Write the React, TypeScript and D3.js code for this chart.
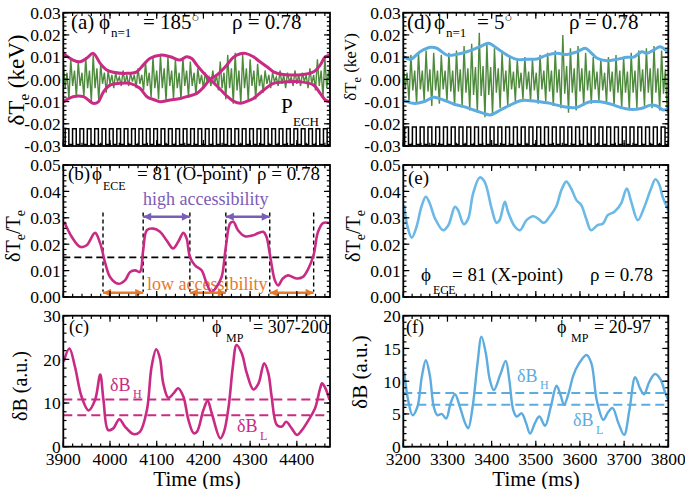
import React from "react";
import * as d3 from "d3";

const FONT = '"Liberation Serif","Times New Roman",Times,serif';
const MAGENTA = "#c92a84";
const GREEN = "#4d8a3b";
const BLUE = "#5cacdf";
const BLUE_E = "#6bb9e6";
const ORANGE = "#e57a2c";
const PURPLE = "#7b5cb6";

// ---------------- (a) phi_n=1 = 185, ECE dTe (keV) ----------------
const greenA_t0 = 3900;
const greenA_dt = 4;
const greenA = [
  0.008, -0.004, 0.003, -0.009, 0.009, -0.003, 0.004, -0.008, 0.008, -0.003, 0.003, -0.008,
  0.010, -0.004, 0.004, -0.010, 0.011, -0.004, 0.005, -0.010, 0.007, -0.002, 0.003, -0.006,
  0.004, -0.002, 0.002, -0.004, 0.003, -0.001, 0.001, -0.003, 0.004, -0.002, 0.002, -0.003,
  0.003, -0.001, 0.002, -0.004, 0.005, -0.002, 0.002, -0.005, 0.008, -0.003, 0.003, -0.008,
  0.010, -0.004, 0.004, -0.009, 0.011, -0.004, 0.005, -0.010, 0.010, -0.003, 0.004, -0.009,
  0.009, -0.004, 0.003, -0.009, 0.010, -0.003, 0.004, -0.008, 0.008, -0.003, 0.003, -0.007,
  0.005, -0.002, 0.002, -0.004, 0.003, -0.001, 0.001, -0.003, 0.004, -0.002, 0.002, -0.005,
  0.008, -0.004, 0.003, -0.009, 0.011, -0.004, 0.005, -0.011, 0.012, -0.005, 0.004, -0.011,
  0.011, -0.004, 0.005, -0.010, 0.009, -0.003, 0.004, -0.009, 0.007, -0.003, 0.002, -0.006,
  0.004, -0.002, 0.002, -0.004, 0.003, -0.001, 0.001, -0.003, 0.004, -0.002, 0.002, -0.004,
  0.003, -0.001, 0.001, -0.003, 0.004, -0.002, 0.002, -0.003, 0.003, -0.001, 0.002, -0.004,
  0.005, -0.002, 0.002, -0.005, 0.009, -0.003, 0.004, -0.008, 0.010, -0.004, 0.004, -0.009,
];
const envA1_t = [3900, 3921, 3936, 3950, 3964, 3979, 3993, 4007, 4036, 4057, 4071, 4086, 4107, 4129, 4150, 4164, 4175, 4186, 4200, 4214, 4229, 4250, 4264, 4279, 4290, 4307, 4329, 4350, 4379, 4407, 4436, 4450, 4461, 4471];
const envA1_v = [0.0117, 0.0087, 0.0079, 0.0095, 0.0117, 0.0072, 0.0042, 0.0032, 0.0027, 0.0034, 0.0064, 0.0095, 0.0109, 0.0102, 0.0087, 0.0102, 0.0094, 0.0064, 0.003, 0.0, -0.003, -0.0075, -0.0098, -0.0108, -0.0101, -0.0086, -0.0048, -0.0018, -0.0011, -0.0011, -0.0026, -0.0063, -0.0093, -0.0101];
const envA2_t = [3900, 3921, 3943, 3964, 3975, 3986, 4000, 4021, 4043, 4064, 4079, 4096, 4107, 4129, 4150, 4164, 4186, 4200, 4214, 4229, 4250, 4264, 4279, 4290, 4307, 4321, 4336, 4350, 4371, 4414, 4436, 4450, 4461, 4471];
const envA2_v = [-0.0101, -0.0078, -0.0078, -0.0108, -0.0101, -0.0056, -0.0026, -0.0018, -0.0018, -0.004, -0.0078, -0.0093, -0.0101, -0.0093, -0.0086, -0.0078, -0.0063, -0.0036, 0.0, 0.002, 0.0064, 0.0099, 0.0115, 0.0117, 0.0102, 0.0079, 0.0057, 0.0034, 0.0022, 0.0022, 0.0034, 0.0064, 0.0102, 0.0109];
const pechA_t0 = 3904;
const pechA_dt = 7.9;
const pechA_low = -0.0293;
const pechA_high = -0.0222;
const pechA = [
  1, 0, 1, 0, 1, 0, 1, 0, 1, 0, 1, 0, 1, 0, 1, 0, 1, 0, 1, 0, 1, 0, 1, 0,
  1, 0, 1, 0, 1, 0, 1, 0, 1, 0, 1, 0, 1, 0, 1, 0, 1, 0, 1, 0, 1, 0, 1, 0,
  1, 0, 1, 0, 1, 0, 1, 0, 1, 0, 1, 0, 1, 0, 1, 0, 1, 0, 1, 0, 1, 0, 1, 0,
];

// ---------------- (b) dTe/Te O-point ----------------
const timeB = [3902, 3918, 3936, 3950, 3968, 3979, 3990, 4000, 4018, 4032, 4043, 4054, 4064, 4071, 4079, 4093, 4107, 4121, 4135, 4146, 4157, 4164, 4171, 4182, 4196, 4207, 4217, 4228, 4239, 4248, 4257, 4264, 4274, 4289, 4306, 4328, 4335, 4342, 4353, 4360, 4370, 4381, 4399, 4413, 4424, 4436, 4445, 4456, 4470];
const valB = [0.0285, 0.0228, 0.019, 0.0196, 0.0243, 0.0203, 0.0127, 0.0076, 0.005, 0.0063, 0.0095, 0.0101, 0.0095, 0.0177, 0.0253, 0.0259, 0.0247, 0.0215, 0.0184, 0.0209, 0.0243, 0.0222, 0.0152, 0.012, 0.0101, 0.0051, 0.0019, 0.0038, 0.0076, 0.019, 0.0278, 0.0285, 0.0253, 0.023, 0.0234, 0.0247, 0.0228, 0.0165, 0.0063, 0.0044, 0.007, 0.0082, 0.007, 0.0076, 0.0105, 0.016, 0.0245, 0.028, 0.028];
const thresholdB = 0.015;
const accessT = [3985, 4071, 4171, 4248, 4342, 4436];
const accessTop = 0.032;
const accessBottom = 0.002;
const highArrowY = 0.0304;
const lowArrowY = 0.0016;

// ---------------- (c) dB ----------------
const timeC = [3901, 3913, 3925, 3939, 3954, 3968, 3979, 3986, 3996, 4007, 4020, 4032, 4050, 4064, 4079, 4089, 4099, 4107, 4114, 4125, 4136, 4146, 4157, 4168, 4179, 4186, 4200, 4209, 4218, 4236, 4244, 4254, 4263, 4271, 4282, 4293, 4307, 4318, 4330, 4339, 4346, 4357, 4368, 4377, 4389, 4400, 4411, 4425, 4439, 4450, 4454, 4461, 4470];
const valC = [19.5, 22.5, 18.3, 11.5, 8.3, 10.7, 16.5, 10.7, 3.8, 4.2, 6.3, 4.6, 2.9, 3.4, 8.4, 18.3, 22.3, 20.2, 14.5, 11.2, 12.2, 13.4, 11.5, 6.1, 3.1, 3.4, 8.4, 10.5, 7.6, 1.9, 3.4, 9.2, 18.3, 23.3, 21.4, 16.8, 13.1, 14.5, 19.1, 16.8, 11.5, 5, 4.6, 5.7, 4.2, 2.7, 3.8, 6.1, 8.8, 13.4, 14.5, 13.4, 10.7];
const dBH_C = 10.8;
const dBL_C = 7.2;

// ---------------- (d) phi_n=1 = 5 ----------------
const greenD_t0 = 3200;
const greenD_dt = 4.3;
const greenD = [
  0.009, -0.0045, 0.003, -0.01, 0.011, -0.005, 0.004, -0.011, 0.012, -0.0045, 0.004, -0.01,
  0.013, -0.0055, 0.0045, -0.012, 0.012, -0.005, 0.004, -0.011, 0.011, -0.0045, 0.004, -0.01,
  0.012, -0.0055, 0.004, -0.012, 0.013, -0.0055, 0.0045, -0.012, 0.015, -0.006, 0.005, -0.014,
  0.016, -0.007, 0.0055, -0.015, 0.021, -0.0075, 0.006, -0.017, 0.016, -0.007, 0.0055, -0.016,
  0.014, -0.006, 0.005, -0.013, 0.012, -0.0055, 0.004, -0.012, 0.01, -0.0045, 0.0035, -0.01,
  0.009, -0.004, 0.003, -0.009, 0.01, -0.0045, 0.0035, -0.01, 0.009, -0.005, 0.003, -0.011,
  0.011, -0.0045, 0.004, -0.01, 0.012, -0.0055, 0.004, -0.012, 0.013, -0.006, 0.0045, -0.013,
  0.02, -0.0065, 0.006, -0.015, 0.014, -0.006, 0.005, -0.014, 0.015, -0.0055, 0.005, -0.012,
  0.012, -0.005, 0.004, -0.011, 0.01, -0.0045, 0.0035, -0.01, 0.009, -0.005, 0.003, -0.011,
  0.01, -0.0055, 0.0035, -0.012, 0.011, -0.006, 0.004, -0.013, 0.01, -0.006, 0.0035, -0.014,
  0.012, -0.006, 0.004, -0.013, 0.013, -0.0055, 0.0045, -0.012, 0.014, -0.006, 0.005, -0.013,
  0.015, -0.006, 0.005, -0.014, 0.013, -0.0065, 0.0045, -0.015,
];
const envD1_t = [3201, 3216, 3238, 3261, 3276, 3299, 3322, 3344, 3374, 3393, 3412, 3435, 3457, 3480, 3503, 3525, 3548, 3571, 3593, 3612, 3623, 3639, 3661, 3684, 3706, 3721, 3740, 3752, 3767, 3782, 3800];
const envD1_v = [0.0102, 0.009, 0.0124, 0.0144, 0.014, 0.0109, 0.0113, 0.0124, 0.0147, 0.0162, 0.014, 0.0109, 0.009, 0.009, 0.0092, 0.0109, 0.0117, 0.0112, 0.0124, 0.014, 0.0124, 0.0095, 0.0084, 0.009, 0.0099, 0.01, 0.0124, 0.0117, 0.0132, 0.0147, 0.012];
const envD2_t = [3201, 3223, 3246, 3269, 3291, 3314, 3337, 3359, 3382, 3397, 3420, 3442, 3465, 3488, 3510, 3533, 3548, 3571, 3593, 3612, 3623, 3646, 3669, 3691, 3714, 3738, 3760, 3774, 3789, 3800];
const envD2_v = [-0.0093, -0.0108, -0.0101, -0.0081, -0.0093, -0.0111, -0.0123, -0.0138, -0.0153, -0.016, -0.0138, -0.0116, -0.0096, -0.0096, -0.0101, -0.0108, -0.0116, -0.0126, -0.0126, -0.0108, -0.0101, -0.0101, -0.0111, -0.0126, -0.0135, -0.0131, -0.0116, -0.012, -0.0138, -0.013];
const pechD_t0 = 3203;
const pechD_dt = 8.8;
const pechD_low = -0.0293;
const pechD_high = -0.0215;
const pechD = [
  1, 0, 1, 0, 1, 0, 1, 0, 1, 0, 1, 0, 1, 0, 1, 0, 1, 0, 1, 0, 1, 0, 1, 0,
  1, 0, 1, 0, 1, 0, 1, 0, 1, 0, 1, 0, 1, 0, 1, 0, 1, 0, 1, 0, 1, 0, 1, 0,
  1, 0, 1, 0, 1, 0, 1, 0, 1, 0, 1, 0, 1, 0, 1, 0, 1, 0, 1, 0,
];

// ---------------- (e) dTe/Te X-point ----------------
const timeE = [3202, 3208, 3219, 3230, 3241, 3251, 3260, 3272, 3290, 3302, 3317, 3324, 3337, 3347, 3358, 3373, 3384, 3400, 3411, 3418, 3430, 3437, 3452, 3464, 3479, 3494, 3505, 3518, 3531, 3546, 3558, 3569, 3580, 3592, 3603, 3614, 3625, 3640, 3652, 3663, 3678, 3693, 3706, 3716, 3731, 3746, 3761, 3771, 3780, 3787, 3800];
const valE = [0.0348, 0.0278, 0.0225, 0.0266, 0.0342, 0.038, 0.0354, 0.0297, 0.0253, 0.0272, 0.0342, 0.0329, 0.0276, 0.0297, 0.0392, 0.0453, 0.0437, 0.0335, 0.0281, 0.0291, 0.0361, 0.0323, 0.0268, 0.0253, 0.0291, 0.0306, 0.0297, 0.0281, 0.0304, 0.0342, 0.0405, 0.0437, 0.0411, 0.0367, 0.0348, 0.0297, 0.0253, 0.0272, 0.0278, 0.031, 0.0323, 0.0354, 0.0411, 0.0361, 0.0291, 0.0342, 0.0411, 0.0446, 0.0424, 0.038, 0.033];

// ---------------- (f) dB ----------------
const timeF = [3202, 3211, 3221, 3232, 3242, 3251, 3260, 3269, 3277, 3287, 3297, 3307, 3317, 3328, 3340, 3347, 3357, 3368, 3377, 3387, 3396, 3405, 3419, 3432, 3440, 3449, 3457, 3468, 3478, 3487, 3498, 3508, 3521, 3534, 3547, 3556, 3564, 3574, 3585, 3596, 3615, 3626, 3638, 3653, 3664, 3674, 3687, 3700, 3712, 3725, 3736, 3745, 3757, 3770, 3783, 3792, 3800];
const valF = [11.45, 7.1, 4.8, 6.1, 10.7, 13.2, 10.9, 6.1, 4.8, 5, 4.3, 6.6, 8, 6.1, 3.6, 2.8, 6.1, 12.7, 16.8, 14.2, 10.2, 8.65, 10.9, 13.1, 10.2, 5.6, 4.6, 5.1, 3.6, 2, 3.6, 4.6, 3.2, 6.1, 9.3, 7.9, 6.4, 8.1, 10.9, 12.5, 14, 12.7, 7.1, 4.1, 5.3, 5.9, 3.6, 1.8, 5.6, 10.6, 8.9, 8, 9.9, 11.1, 10.2, 8.4, 7.1];
const dBH_F = 8.2;
const dBL_F = 6.4;

// ---------------- tick labels ----------------
const xTicksL = [3900, 4000, 4100, 4200, 4300, 4400];
const xTicksR = [3200, 3300, 3400, 3500, 3600, 3700, 3800];
const yTicksA = [-0.03, -0.02, -0.01, 0.0, 0.01, 0.02, 0.03];
const yTicksB = [0.0, 0.01, 0.02, 0.03, 0.04, 0.05];
const yTicksC = [0, 10, 20, 30];
const yTicksF = [0, 5, 10, 15, 20];

type Sc = d3.ScaleLinear<number, number>;

function Frame(props: {
  id: string; x: Sc; y: Sc; xMajor: number[]; xMinor: number[]; yMajor: number[]; yMinor: number[];
  yFmt: (v: number) => string; xLabels?: boolean; children?: React.ReactNode;
}) {
  const { id, x, y, xMajor, xMinor, yMajor, yMinor, yFmt, xLabels, children } = props;
  const [x0, x1] = x.range();
  const [yb, yt] = y.range();
  const ML = 6, mL = 3.2;
  const t: React.ReactNode[] = [];
  xMinor.forEach((v, i) => {
    const px = x(v);
    t.push(<line key={"xmb" + i} x1={px} x2={px} y1={yb} y2={yb - mL} />);
    t.push(<line key={"xmt" + i} x1={px} x2={px} y1={yt} y2={yt + mL} />);
  });
  xMajor.forEach((v, i) => {
    const px = x(v);
    t.push(<line key={"xMb" + i} x1={px} x2={px} y1={yb} y2={yb - ML} />);
    t.push(<line key={"xMt" + i} x1={px} x2={px} y1={yt} y2={yt + ML} />);
  });
  yMinor.forEach((v, i) => {
    const py = y(v);
    t.push(<line key={"yml" + i} x1={x0} x2={x0 + mL} y1={py} y2={py} />);
    t.push(<line key={"ymr" + i} x1={x1} x2={x1 - mL} y1={py} y2={py} />);
  });
  yMajor.forEach((v, i) => {
    const py = y(v);
    t.push(<line key={"yMl" + i} x1={x0} x2={x0 + ML} y1={py} y2={py} />);
    t.push(<line key={"yMr" + i} x1={x1} x2={x1 - ML} y1={py} y2={py} />);
  });
  return (
    <g>
      <defs>
        <clipPath id={id}>
          <rect x={x0} y={yt} width={x1 - x0} height={yb - yt} />
        </clipPath>
      </defs>
      <g clipPath={`url(#${id})`}>{children}</g>
      <g stroke="#000" strokeWidth={1.2}>{t}</g>
      <rect x={x0} y={yt} width={x1 - x0} height={yb - yt} fill="none" stroke="#000" strokeWidth={1.8} />
      {yMajor.map((v, i) => (
        <text key={"yl" + i} x={x0 - 2.5} y={y(v)} dy="0.36em" textAnchor="end" fontSize={17.5} fontFamily={FONT}>
          {yFmt(v)}
        </text>
      ))}
      {xLabels &&
        xMajor.map((v, i) => (
          <text key={"xl" + i} x={x(v)} y={465} textAnchor="middle" fontSize={17.5} fontFamily={FONT}>
            {v}
          </text>
        ))}
    </g>
  );
}

export default function App() {
  const xL = d3.scaleLinear().domain([3900, 4471]).range([63.3, 330]);
  const xR = d3.scaleLinear().domain([3200, 3800]).range([403.3, 668.3]);
  const yA = d3.scaleLinear().domain([-0.03, 0.03]).range([146, 12.7]);
  const yD = d3.scaleLinear().domain([-0.03, 0.03]).range([146, 12.7]);
  const yB = d3.scaleLinear().domain([0, 0.05]).range([297, 165]);
  const yE = d3.scaleLinear().domain([0, 0.05]).range([297, 165]);
  const yC = d3.scaleLinear().domain([0, 30]).range([446.7, 315.7]);
  const yF = d3.scaleLinear().domain([0, 20]).range([446.7, 315.7]);

  const minorL = d3.range(3900, 4472, 20);
  const minorR = d3.range(3200, 3801, 20);
  const minorA = d3.range(-15, 16).map((i) => i * 0.002);
  const minorB = d3.range(0, 26).map((i) => i * 0.002);
  const minorC = d3.range(0, 31, 2);
  const minorF = d3.range(0, 21, 1);

  const fmt2 = (v: number) => (Math.abs(v) < 1e-9 ? "0.00" : v.toFixed(2));
  const fmt0 = (v: number) => String(v);

  const zip = (t: number[], v: number[]) => t.map((ti, i) => [ti, v[i]] as [number, number]);
  const smooth = (xs: Sc, ys: Sc) =>
    d3.line<[number, number]>().x((d) => xs(d[0])).y((d) => ys(d[1])).curve(d3.curveCatmullRom.alpha(0.5));
  const straight = (xs: Sc, ys: Sc) =>
    d3.line<[number, number]>().x((d) => xs(d[0])).y((d) => ys(d[1]));
  const step = (xs: Sc, ys: Sc) =>
    d3.line<[number, number]>().x((d) => xs(d[0])).y((d) => ys(d[1])).curve(d3.curveStepAfter);

  const greenAPts = greenA.map((v, i) => [greenA_t0 + i * greenA_dt, v] as [number, number]);
  const greenDPts = greenD.map((v, i) => [greenD_t0 + i * greenD_dt, v] as [number, number]);
  const pechAPts = pechA.map((s, i) => [pechA_t0 + i * pechA_dt, s ? pechA_high : pechA_low] as [number, number]);
  pechAPts.unshift([3900, pechA_low]);
  pechAPts.push([4471, pechA_low]);
  const pechDPts = pechD.map((s, i) => [pechD_t0 + i * pechD_dt, s ? pechD_high : pechD_low] as [number, number]);
  pechDPts.unshift([3200, pechD_low]);
  pechDPts.push([3800, pechD_low]);

  const t = (p: any) => <text fontFamily={FONT} {...p} />;

  const arrowPairsHigh = [[accessT[1], accessT[2]], [accessT[3], accessT[4]]];
  const arrowPairsLow = [[accessT[0], accessT[1]], [accessT[2], accessT[3]], [accessT[4], accessT[5]]];

  return (
    <svg width={685} height={489} style={{ position: "absolute", left: 0, top: 0, background: "#fff" }}>
      <defs>
        <marker id="ahP" viewBox="0 0 10 10" refX={10} refY={5} markerWidth={9} markerHeight={8} markerUnits="userSpaceOnUse" orient="auto-start-reverse">
          <path d="M0,0 L10,5 L0,10 z" fill={PURPLE} />
        </marker>
        <marker id="ahO" viewBox="0 0 10 10" refX={10} refY={5} markerWidth={9} markerHeight={8} markerUnits="userSpaceOnUse" orient="auto-start-reverse">
          <path d="M0,0 L10,5 L0,10 z" fill={ORANGE} />
        </marker>
      </defs>
      <rect x={0} y={0} width={685} height={489} fill="#fff" />

      {/* ---------- (a) ---------- */}
      <Frame id="ca" x={xL} y={yA} xMajor={xTicksL} xMinor={minorL} yMajor={yTicksA} yMinor={minorA} yFmt={fmt2}>
        <path d={straight(xL, yA)(greenAPts) || ""} fill="none" stroke={GREEN} strokeWidth={1.4} />
        <path d={smooth(xL, yA)(zip(envA1_t, envA1_v)) || ""} fill="none" stroke={MAGENTA} strokeWidth={3} />
        <path d={smooth(xL, yA)(zip(envA2_t, envA2_v)) || ""} fill="none" stroke={MAGENTA} strokeWidth={3} />
        <path d={step(xL, yA)(pechAPts) || ""} fill="none" stroke="#000" strokeWidth={1.5} />
      </Frame>
      {t({ x: 71, y: 29, fontSize: 21, children: "(a)" })}
      {t({ x: 99, y: 29, fontSize: 21, children: "ϕ" })}
      {t({ x: 111, y: 37, fontSize: 13, children: "n=1" })}
      <text x={143} y={29} fontSize={21} fontFamily={FONT}>= 185<tspan fontSize={13} dy={-7}>○</tspan></text>
      {t({ x: 232, y: 29, fontSize: 21, children: "ρ = 0.78" })}
      {t({ x: 281, y: 113, fontSize: 21, children: "P" })}
      {t({ x: 293, y: 126, fontSize: 13, children: "ECH" })}
      <text transform="translate(24,80) rotate(-90)" textAnchor="middle" fontSize={23} fontFamily={FONT}>
        δT<tspan fontSize={15} dy={5}>e</tspan><tspan dy={-5}> (keV)</tspan>
      </text>

      {/* ---------- (b) ---------- */}
      {t({ x: 143, y: 205, fontSize: 18, fill: PURPLE, children: "high accessibility" })}
      {t({ x: 147, y: 290, fontSize: 18, fill: ORANGE, children: "low accessibility" })}
      <Frame id="cb" x={xL} y={yB} xMajor={xTicksL} xMinor={minorL} yMajor={yTicksB} yMinor={minorB} yFmt={fmt2}>
        <line x1={xL(3900)} x2={xL(4471)} y1={yB(thresholdB)} y2={yB(thresholdB)} stroke="#000" strokeWidth={1.6} strokeDasharray="7,4" />
        {accessT.map((tt, i) => (
          <line key={i} x1={xL(tt)} x2={xL(tt)} y1={yB(accessTop)} y2={yB(accessBottom)} stroke="#000" strokeWidth={1.4} strokeDasharray="4,3" />
        ))}
        <path d={smooth(xL, yB)(zip(timeB, valB)) || ""} fill="none" stroke={MAGENTA} strokeWidth={2.6} />
        {arrowPairsHigh.map((p, i) => (
          <line key={"h" + i} x1={xL(p[0])} x2={xL(p[1])} y1={yB(highArrowY)} y2={yB(highArrowY)} stroke={PURPLE} strokeWidth={2.6} markerStart="url(#ahP)" markerEnd="url(#ahP)" />
        ))}
        {arrowPairsLow.map((p, i) => (
          <line key={"l" + i} x1={xL(p[0])} x2={xL(p[1])} y1={yB(lowArrowY)} y2={yB(lowArrowY)} stroke={ORANGE} strokeWidth={2.6} markerStart="url(#ahO)" markerEnd="url(#ahO)" />
        ))}
      </Frame>
      {t({ x: 68, y: 180, fontSize: 19, children: "(b)" })}
      {t({ x: 92, y: 180, fontSize: 19, children: "ϕ" })}
      {t({ x: 103, y: 190, fontSize: 12, children: "ECE" })}
      {t({ x: 137, y: 180, fontSize: 19, children: "= 81 (O-point)" })}
      {t({ x: 257, y: 180, fontSize: 19, children: "ρ = 0.78" })}
      <text transform="translate(20,236) rotate(-90)" textAnchor="middle" fontSize={20} fontFamily={FONT}>
        δT<tspan fontSize={14} dy={5}>e</tspan><tspan dy={-5}>/T</tspan><tspan fontSize={14} dy={5}>e</tspan>
      </text>

      {/* ---------- (c) ---------- */}
      <Frame id="cc" x={xL} y={yC} xMajor={xTicksL} xMinor={minorL} yMajor={yTicksC} yMinor={minorC} yFmt={fmt0} xLabels>
        <line x1={xL(3900)} x2={xL(4471)} y1={yC(dBH_C)} y2={yC(dBH_C)} stroke={MAGENTA} strokeWidth={2} strokeDasharray="9,5" />
        <line x1={xL(3900)} x2={xL(4471)} y1={yC(dBL_C)} y2={yC(dBL_C)} stroke={MAGENTA} strokeWidth={2} strokeDasharray="9,5" />
        <path d={smooth(xL, yC)(zip(timeC, valC)) || ""} fill="none" stroke={MAGENTA} strokeWidth={2.6} />
      </Frame>
      {t({ x: 69, y: 333, fontSize: 18, children: "(c)" })}
      {t({ x: 212, y: 333, fontSize: 18, children: "ϕ" })}
      {t({ x: 226, y: 342, fontSize: 12, children: "MP" })}
      {t({ x: 253, y: 333, fontSize: 18, children: "= 307-200" })}
      {t({ x: 110, y: 391, fontSize: 18, fill: MAGENTA, children: "δB" })}
      {t({ x: 133, y: 398, fontSize: 12, fill: MAGENTA, children: "H" })}
      {t({ x: 237, y: 432, fontSize: 18, fill: MAGENTA, children: "δB" })}
      {t({ x: 260, y: 440, fontSize: 12, fill: MAGENTA, children: "L" })}
      <text transform="translate(27,386) rotate(-90)" textAnchor="middle" fontSize={20} fontFamily={FONT}>δB (a.u.)</text>
      {t({ x: 197, y: 485.5, fontSize: 21, textAnchor: "middle", children: "Time (ms)" })}

      {/* ---------- (d) ---------- */}
      <Frame id="cd" x={xR} y={yD} xMajor={xTicksR} xMinor={minorR} yMajor={yTicksA} yMinor={minorA} yFmt={fmt2}>
        <path d={straight(xR, yD)(greenDPts) || ""} fill="none" stroke={GREEN} strokeWidth={1.4} />
        <path d={smooth(xR, yD)(zip(envD1_t, envD1_v)) || ""} fill="none" stroke={BLUE} strokeWidth={3} />
        <path d={smooth(xR, yD)(zip(envD2_t, envD2_v)) || ""} fill="none" stroke={BLUE} strokeWidth={3} />
        <path d={step(xR, yD)(pechDPts) || ""} fill="none" stroke="#000" strokeWidth={1.5} />
      </Frame>
      {t({ x: 407, y: 29, fontSize: 21, children: "(d)" })}
      {t({ x: 434, y: 29, fontSize: 21, children: "ϕ" })}
      {t({ x: 446, y: 37, fontSize: 13, children: "n=1" })}
      <text x={477} y={29} fontSize={21} fontFamily={FONT}>= 5<tspan fontSize={13} dy={-7}>○</tspan></text>
      {t({ x: 569, y: 29, fontSize: 21, children: "ρ = 0.78" })}
      <text transform="translate(356,67) rotate(-90)" textAnchor="middle" fontSize={17} fontFamily={FONT}>
        δT<tspan fontSize={12} dy={5}>e</tspan><tspan dy={-5}> (keV)</tspan>
      </text>

      {/* ---------- (e) ---------- */}
      <Frame id="ce" x={xR} y={yE} xMajor={xTicksR} xMinor={minorR} yMajor={yTicksB} yMinor={minorB} yFmt={fmt2}>
        <path d={smooth(xR, yE)(zip(timeE, valE)) || ""} fill="none" stroke={BLUE_E} strokeWidth={2.6} />
      </Frame>
      {t({ x: 408, y: 184, fontSize: 19, children: "(e)" })}
      {t({ x: 421, y: 281, fontSize: 19, children: "ϕ" })}
      {t({ x: 433, y: 294, fontSize: 12, children: "ECE" })}
      {t({ x: 452, y: 281, fontSize: 19, children: "= 81 (X-point)" })}
      {t({ x: 590, y: 281, fontSize: 19, children: "ρ = 0.78" })}
      <text transform="translate(360,236) rotate(-90)" textAnchor="middle" fontSize={20} fontFamily={FONT}>
        δT<tspan fontSize={14} dy={5}>e</tspan><tspan dy={-5}>/T</tspan><tspan fontSize={14} dy={5}>e</tspan>
      </text>

      {/* ---------- (f) ---------- */}
      <Frame id="cf" x={xR} y={yF} xMajor={xTicksR} xMinor={minorR} yMajor={yTicksF} yMinor={minorF} yFmt={fmt0} xLabels>
        <line x1={xR(3200)} x2={xR(3800)} y1={yF(dBH_F)} y2={yF(dBH_F)} stroke={BLUE} strokeWidth={2} strokeDasharray="9,5" />
        <line x1={xR(3200)} x2={xR(3800)} y1={yF(dBL_F)} y2={yF(dBL_F)} stroke={BLUE} strokeWidth={2} strokeDasharray="9,5" />
        <path d={smooth(xR, yF)(zip(timeF, valF)) || ""} fill="none" stroke={BLUE} strokeWidth={2.4} />
      </Frame>
      {t({ x: 406, y: 333, fontSize: 18, children: "(f)" })}
      {t({ x: 557, y: 333, fontSize: 18, children: "ϕ" })}
      {t({ x: 571, y: 342, fontSize: 12, children: "MP" })}
      {t({ x: 594, y: 333, fontSize: 18, children: "= 20-97" })}
      {t({ x: 517, y: 382, fontSize: 18, fill: BLUE, children: "δB" })}
      {t({ x: 540, y: 389, fontSize: 12, fill: BLUE, children: "H" })}
      {t({ x: 573, y: 426, fontSize: 18, fill: BLUE, children: "δB" })}
      {t({ x: 596, y: 434, fontSize: 12, fill: BLUE, children: "L" })}
      <text transform="translate(367,372) rotate(-90)" textAnchor="middle" fontSize={21} fontFamily={FONT}>δB (a.u.)</text>
      {t({ x: 536, y: 485.5, fontSize: 21, textAnchor: "middle", children: "Time (ms)" })}
    </svg>
  );
}
